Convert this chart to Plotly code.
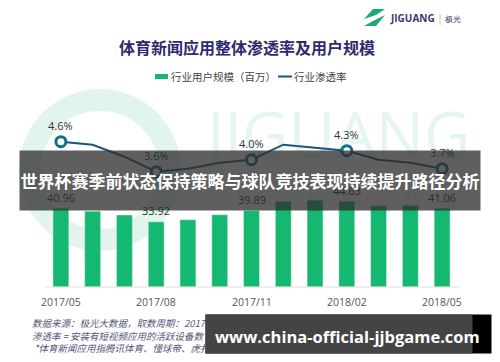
import plotly.graph_objects as go

months = ["2017/05", "2017/06", "2017/07", "2017/08", "2017/09", "2017/10", "2017/11",
          "2017/12", "2018/01", "2018/02", "2018/03", "2018/04", "2018/05"]
users = [40.96, 39.5, 37.5, 33.92, 35.0, 37.6, 39.89, 44.6, 45.2, 44.63, 42.3, 42.5, 41.06]
penetration = [4.6, 4.5, 4.1, 3.6, 3.7, 3.9, 4.0, 4.5, 4.4, 4.3, 4.0, 3.9, 3.7]
label_idx = [0, 3, 6, 9, 12]
tick_vals = ["2017/05", "2017/08", "2017/11", "2018/02", "2018/05"]

W, H = 500, 362
L, R, T, B = 45, 42, 100, 75
PW, PH = W - L - R, H - T - B
BAR_SCALE = 1.92            # px per million users
PCT_Y, PCT_VAL, PCT_SCALE = 141.7, 4.6, 30.0   # pixel of 4.6%, px per 1%

def px(x):
    return (x - L) / PW

def py(y):
    return (H - B - y) / PH

CJK = "Noto Sans CJK SC"
GREEN = "#14b86e"
LINEC = "#17557d"

def A(x, y, text, size, color, family=CJK, xanchor="center", yanchor="middle", xref="paper", **kw):
    d = dict(x=x, y=y, xref=xref, yref="paper", text=text, showarrow=False,
             xanchor=xanchor, yanchor=yanchor,
             font=dict(family=family, size=size, color=color))
    d.update(kw)
    return d

fig = go.Figure()
fig.add_trace(go.Bar(x=months, y=users, name="行业用户规模（百万）", marker_color=GREEN,
                     showlegend=False))
fig.add_trace(go.Scatter(x=months, y=penetration, yaxis="y2", mode="lines", name="行业渗透率",
                         line=dict(color=LINEC, width=2), showlegend=False))
fig.add_trace(go.Scatter(
    x=[months[i] for i in label_idx], y=[penetration[i] for i in label_idx], yaxis="y2",
    mode="markers", marker=dict(size=10, color="white", line=dict(color="#0e6f8f", width=3)),
    showlegend=False, cliponaxis=False,
))

shapes = []
ann = []

# faint watermark
shapes.append(dict(type="circle", xref="paper", yref="paper",
                   x0=px(30), x1=px(170), y0=py(240), y1=py(100),
                   line=dict(color="rgba(20,170,110,0.12)", width=22), layer="below"))
ann.append(A(px(335), py(133), "JIGUANG", 64, "rgba(20,170,110,0.11)", family="Open Sans"))
ann.append(A(px(380), py(200), "极  光  大  数  据", 22, "rgba(60,60,60,0.10)"))

# baseline
shapes.append(dict(type="line", xref="paper", yref="paper", x0=px(45), x1=px(460),
                   y0=0, y1=0, line=dict(color="#dddddd", width=1)))

# title
ann.append(A(px(247), py(47), "<b>体育新闻应用整体渗透率及用户规模</b>", 16, "#2d2b6d"))
# legend
shapes.append(dict(type="rect", xref="paper", yref="paper", x0=px(155), x1=px(168),
                   y0=py(79), y1=py(74), fillcolor=GREEN, line=dict(width=0)))
ann.append(A(px(169), py(76.5), "行业用户规模（百万）", 10.5, "#444444", xanchor="left"))
shapes.append(dict(type="line", xref="paper", yref="paper", x0=px(278), x1=px(292),
                   y0=py(76.5), y1=py(76.5), line=dict(color=LINEC, width=2)))
ann.append(A(px(292), py(76.5), "行业渗透率", 10.5, "#444444", xanchor="left"))

# logo
shapes.append(dict(type="path", xref="paper", yref="paper",
                   path=f"M {px(364)},{py(19)} L {px(373)},{py(9)} L {px(385)},{py(9)} L {px(376)},{py(15)} Z",
                   fillcolor="#1fa97a", line=dict(width=0)))
shapes.append(dict(type="path", xref="paper", yref="paper",
                   path=f"M {px(385)},{py(15)} L {px(376)},{py(26)} L {px(364)},{py(26)} L {px(373)},{py(21)} Z",
                   fillcolor="#1fa97a", line=dict(width=0)))
ann.append(A(px(388), py(17.5), "<b>JIGUANG</b> <span style='color:#aaa'>|</span> <span style='font-size:8px'>极光</span>",
             10, "#3a3a6a", family="Open Sans", xanchor="left"))

# value labels on bars
for i in label_idx:
    ann.append(A(months[i], py(H - B - users[i] * BAR_SCALE - 11), f"{users[i]:.2f}", 11, "#333333",
                 family="Open Sans", xref="x"))
# value labels on line
for i in label_idx:
    ypix = PCT_Y - (penetration[i] - PCT_VAL) * PCT_SCALE
    ann.append(A(months[i], py(ypix - 16), f"{penetration[i]:.1f}%", 11, "#333333",
                 family="Open Sans", xref="x"))

# x tick labels
for lab in tick_vals:
    ann.append(A(lab, py(302), lab, 10.5, "#555555", family="Open Sans", xref="x"))

# footnotes
foot = ["数据来源：极光大数据，取数周期：2017.05-2018.05",
        "渗透率 = 安装有短视频应用的活跃设备数 / 当月活跃设备数",
        " *体育新闻应用指腾讯体育、懂球帝、虎扑等独立体育资讯应用"]
for i, t in enumerate(foot):
    ann.append(A(px(30), py(323 + 12.5 * i), f"<i>{t}</i>", 9.5, "#555577", xanchor="left"))

# overlay banner
ann.append(A(px(250), py(180.5), "<b>世界杯赛季前状态保持策略与球队竞技表现持续提升路径分析</b>", 17, "white",
             width=460, height=59, bgcolor="rgba(45,45,45,0.76)", borderpad=0))
# bottom url overlay
ann.append(A(px(348.5), py(334), "", 10, "white", width=285, height=38, bgcolor="black", borderpad=0))
ann.append(A(px(339), py(334), "", 10, "white", width=266, height=38, bgcolor="rgba(70,70,70,0.97)", borderpad=0))
ann.append(A(px(347.5), py(336), "<b>www.china-official-jjbgame.com</b>", 16.5, "white", family="Open Sans"))

fig.update_layout(
    width=W, height=H, margin=dict(l=L, r=R, t=T, b=B),
    paper_bgcolor="white", plot_bgcolor="rgba(0,0,0,0)",
    bargap=0.5,
    xaxis=dict(type="category", range=[-0.5, 12.5], showticklabels=False, showgrid=False,
               zeroline=False, showline=False, ticks=""),
    yaxis=dict(range=[0, PH / BAR_SCALE], visible=False),
    yaxis2=dict(range=[PCT_VAL - (H - B - PCT_Y) / PCT_SCALE, PCT_VAL + (PCT_Y - T) / PCT_SCALE],
                overlaying="y", visible=False),
    shapes=shapes, annotations=ann, showlegend=False,
)

fig.write_html("out.html", config={"displayModeBar": False},
               post_script="document.body.style.margin='0';")
